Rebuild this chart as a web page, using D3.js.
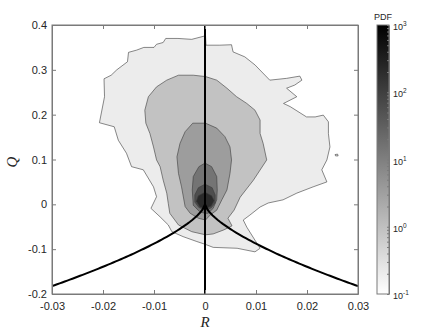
<!DOCTYPE html>
<html>
<head>
<meta charset="utf-8">
<script src="https://cdn.jsdelivr.net/npm/d3@7"></script>
<style>
  body { margin: 0; background: #fff; }
  text { font-family: "Liberation Sans", Arial, sans-serif; fill: #262626; }
</style>
</head>
<body>
<div id="chart"></div>
<script>
// axis ticks
var rTicks = [-0.03, -0.02, -0.01, 0, 0.01, 0.02, 0.03];
var qTicks = [-0.2, -0.1, 0, 0.1, 0.2, 0.3, 0.4];
var pdfTicks = [0.1, 1, 10, 100, 1000];

// contour levels (PDF) and their outlines in [R, Q], outermost first
var levels = [0.2, 0.9, 3.5, 15, 60, 220];

var contour1 = [[0.0001,0.376],[-0.0026,0.368],[-0.0053,0.370],[-0.0077,0.370],[-0.0082,0.361],
  [-0.0095,0.357],[-0.0100,0.350],[-0.0120,0.350],[-0.0134,0.344],[-0.0150,0.339],[-0.0152,0.318],
  [-0.0173,0.300],[-0.0184,0.288],[-0.0198,0.280],[-0.0197,0.240],[-0.0207,0.182],[-0.0178,0.173],
  [-0.0170,0.143],[-0.0154,0.114],[-0.0144,0.084],[-0.0121,0.077],[-0.0101,0.039],[-0.0095,0.017],
  [-0.0106,-0.009],[-0.0088,-0.028],[-0.0072,-0.046],[-0.0065,-0.061],[-0.0043,-0.072],[-0.0016,-0.083],
  [0,-0.089],[0.0016,-0.096],[0.0063,-0.098],[0.0098,-0.106],[0.0108,-0.098],[0.0098,-0.080],
  [0.0082,-0.051],[0.0075,-0.035],[0.0088,-0.024],[0.0108,-0.006],[0.0124,0.003],[0.0153,0.010],
  [0.0180,0.025],[0.0212,0.039],[0.0239,0.050],[0.0229,0.077],[0.0239,0.099],[0.0245,0.128],
  [0.0242,0.158],[0.0242,0.184],[0.0232,0.199],[0.0216,0.195],[0.0199,0.195],[0.0167,0.218],
  [0.0154,0.225],[0.0180,0.240],[0.0160,0.259],[0.0176,0.266],[0.0190,0.277],[0.0186,0.286],
  [0.0160,0.281],[0.0127,0.277],[0.0098,0.311],[0.0078,0.329],[0.0055,0.340],[0.0052,0.356],
  [0.0029,0.355],[0.0002,0.355]];
var island1 = [[0.0255,0.111],[0.0260,0.112],[0.0261,0.108],[0.0256,0.108]];

var contour2 = [[0.0001,0.285],[-0.0023,0.288],[-0.0052,0.288],[-0.0075,0.277],[-0.0095,0.262],
  [-0.0111,0.240],[-0.0118,0.210],[-0.0116,0.181],[-0.0108,0.158],[-0.0101,0.128],[-0.0095,0.099],
  [-0.0088,0.084],[-0.0082,0.054],[-0.0075,0.025],[-0.0072,0.002],[-0.0069,-0.020],[-0.0052,-0.046],
  [-0.0026,-0.061],[0.0001,-0.068],[0.0016,-0.066],[0.0037,-0.057],[0.0053,-0.048],[0.0045,-0.031],
  [0.0057,-0.013],[0.0069,0.016],[0.0095,0.054],[0.0121,0.099],[0.0114,0.136],[0.0108,0.158],
  [0.0108,0.188],[0.0098,0.210],[0.0082,0.225],[0.0062,0.240],[0.0043,0.259],[0.0023,0.277]];

var contour3 = [[0.0001,0.181],[-0.0024,0.181],[-0.0039,0.162],[-0.0049,0.136],[-0.0055,0.106],
  [-0.0052,0.069],[-0.0046,0.039],[-0.0039,-0.005],[-0.0029,-0.020],[-0.0013,-0.031],[0.0001,-0.035],
  [0.0010,-0.024],[0.0023,-0.013],[0.0033,0.010],[0.0043,0.032],[0.0049,0.069],[0.0052,0.099],
  [0.0049,0.128],[0.0039,0.151],[0.0023,0.170]];

var contour4 = [[0,0.092],[-0.0012,0.084],[-0.0023,0.062],[-0.0025,0.032],[-0.0023,-0.002],
  [-0.0010,-0.017],[0,-0.020],[0.0006,-0.020],[0.0016,-0.009],[0.0023,0.010],[0.0024,0.032],
  [0.0023,0.062],[0.0013,0.084]];

var contour5 = [[0,0.045],[-0.0013,0.037],[-0.0020,0.021],[-0.0020,0.005],[-0.0012,-0.007],
  [0,-0.013],[0.0012,-0.008],[0.0020,0.003],[0.0020,0.021],[0.0014,0.037]];

var contour6 = [[0,0.027],[-0.0013,0.019],[-0.0017,0.007],[-0.0010,-0.006],[0,-0.010],
  [0.0012,-0.004],[0.0018,0.008],[0.0013,0.019]];

var contours = [
  {level: levels[0], rings: [contour1, island1]},
  {level: levels[1], rings: [contour2]},
  {level: levels[2], rings: [contour3]},
  {level: levels[3], rings: [contour4]},
  {level: levels[4], rings: [contour5]},
  {level: levels[5], rings: [contour6]}
];

var width = 444, height = 333;
var plotL = 52, plotR = 358, plotT = 25, plotB = 294;

var svg = d3.select("#chart").append("svg")
  .attr("width", width)
  .attr("height", height);

var x = d3.scaleLinear().domain([-0.03, 0.03]).range([plotL, plotR]);
var y = d3.scaleLinear().domain([-0.2, 0.4]).range([plotB, plotT]);
var c = d3.scaleLog().domain([0.1, 1000]).range([plotB, plotT]);
var gray = d3.scaleLog().domain([0.1, 1000]).range([1, 0]);
var shade = function(v) { var g = Math.round(255 * gray(v)); return d3.rgb(g, g, g).toString(); };

svg.append("clipPath").attr("id", "plotclip")
  .append("rect").attr("x", plotL).attr("y", plotT)
  .attr("width", plotR - plotL).attr("height", plotB - plotT);

var plot = svg.append("g").attr("clip-path", "url(#plotclip)");

var line = d3.line().x(function(d) { return x(d[0]); }).y(function(d) { return y(d[1]); });

contours.forEach(function(ct) {
  ct.rings.forEach(function(r) {
    plot.append("path")
      .attr("d", line(r) + "Z")
      .attr("fill", shade(ct.level))
      .attr("stroke", "#3a3a3a")
      .attr("stroke-width", 0.6);
  });
});

// Vieillefosse line: 27/4 R^2 + Q^3 = 0
var vf = d3.range(-0.03, 0.03001, 0.0005).map(function(r) {
  return [r, -Math.cbrt(27 / 4 * r * r)];
});
plot.append("path").attr("d", line(vf))
  .attr("fill", "none").attr("stroke", "#000").attr("stroke-width", 2);
plot.append("path").attr("d", line([[0, -0.2], [0, 0.4]]))
  .attr("fill", "none").attr("stroke", "#000").attr("stroke-width", 2);

var fmt = function(d) { return d === 0 ? "0" : String(d); };

var gx = svg.append("g").attr("transform", "translate(0," + plotB + ")")
  .call(d3.axisBottom(x).tickValues(rTicks).tickFormat(fmt).tickSize(-4).tickSizeOuter(0).tickPadding(8));
var gxt = svg.append("g").attr("transform", "translate(0," + plotT + ")")
  .call(d3.axisTop(x).tickValues(rTicks).tickFormat("").tickSize(-4).tickSizeOuter(0));
var gy = svg.append("g").attr("transform", "translate(" + plotL + ",0)")
  .call(d3.axisLeft(y).tickValues(qTicks).tickFormat(fmt).tickSize(-4).tickSizeOuter(0).tickPadding(5));
var gyr = svg.append("g").attr("transform", "translate(" + plotR + ",0)")
  .call(d3.axisRight(y).tickValues(qTicks).tickFormat("").tickSize(-4).tickSizeOuter(0));

[gx, gxt, gy, gyr].forEach(function(g) {
  g.selectAll("path, line").attr("stroke", "#7a7a7a");
  g.selectAll("text").attr("font-size", 11).attr("fill", "#262626")
    .attr("font-family", "Liberation Sans, Arial, sans-serif");
});

svg.append("text").attr("x", (plotL + plotR) / 2).attr("y", 327)
  .attr("text-anchor", "middle")
  .style("font-family", "Liberation Serif, serif").style("font-style", "italic")
  .style("font-size", "15px").text("R");
svg.append("text").attr("transform", "translate(17,162) rotate(-90)")
  .attr("text-anchor", "middle")
  .style("font-family", "Liberation Serif, serif").style("font-style", "italic")
  .style("font-size", "15px").text("Q");

// colorbar
var cbL = 377, cbR = 389;
var grad = svg.append("defs").append("linearGradient").attr("id", "cbgrad")
  .attr("x1", 0).attr("y1", 1).attr("x2", 0).attr("y2", 0);
d3.range(0, 1.0001, 0.1).forEach(function(t) {
  var v = Math.pow(10, -1 + 4 * t);
  grad.append("stop").attr("offset", t).attr("stop-color", shade(v));
});
svg.append("rect").attr("x", cbL).attr("y", plotT)
  .attr("width", cbR - cbL).attr("height", plotB - plotT)
  .attr("fill", "url(#cbgrad)");

var gc = svg.append("g").attr("transform", "translate(" + cbR + ",0)")
  .call(d3.axisRight(c).tickFormat("").tickSize(-2).tickSizeOuter(0));
gc.selectAll("path, line").attr("stroke", "#7a7a7a");
svg.append("rect").attr("x", cbL).attr("y", plotT)
  .attr("width", cbR - cbL).attr("height", plotB - plotT)
  .attr("fill", "none").attr("stroke", "#7a7a7a");

pdfTicks.forEach(function(v) {
  var t = svg.append("text").attr("x", 393).attr("y", c(v) + 5)
    .style("font-size", "9px");
  t.append("tspan").text("10");
  t.append("tspan").attr("dy", -4).style("font-size", "6.5px").text(Math.round(Math.log10(v)));
});

svg.append("text").attr("x", 383).attr("y", 20).attr("text-anchor", "middle")
  .style("font-size", "9px").text("PDF");

svg.append("rect").attr("x", plotL).attr("y", plotT)
  .attr("width", plotR - plotL).attr("height", plotB - plotT)
  .attr("fill", "none").attr("stroke", "#7a7a7a");
</script>
</body>
</html>
